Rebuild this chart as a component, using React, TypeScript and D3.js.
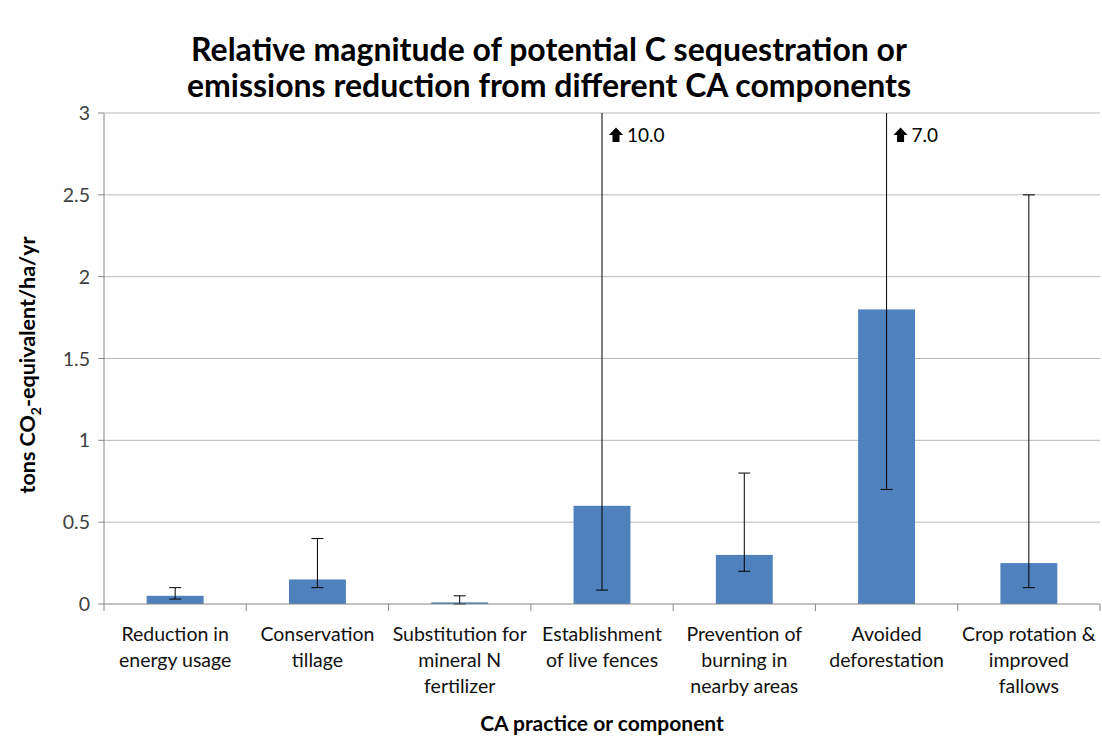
import React from "react";
import * as d3 from "d3";

const categories = [
  ["Reduction in", "energy usage"],
  ["Conservation", "tillage"],
  ["Substitution for", "mineral N", "fertilizer"],
  ["Establishment", "of live fences"],
  ["Prevention of", "burning in", "nearby areas"],
  ["Avoided", "deforestation"],
  ["Crop rotation &", "improved", "fallows"],
];
const values = [0.05, 0.15, 0.01, 0.6, 0.3, 1.8, 0.25];
const errLow = [0.03, 0.1, 0.0, 0.085, 0.2, 0.7, 0.1];
const errHigh = [0.1, 0.4, 0.05, 10.0, 0.8, 7.0, 2.5];
const yTicks = [0, 0.5, 1, 1.5, 2, 2.5, 3];
const yTickLabels = ["0", "0.5", "1", "1.5", "2", "2.5", "3"];

const W = 1102;
const H = 744;
const M = { left: 104, right: 1100, top: 113, bottom: 604 };
const FONT = "Lato, 'Open Sans', sans-serif";

export default function App() {
  const x = d3
    .scaleBand<number>()
    .domain(d3.range(categories.length))
    .range([M.left, M.right])
    .paddingInner(0)
    .paddingOuter(0);
  const y = d3.scaleLinear().domain([0, 3]).range([M.bottom, M.top]);
  const bw = x.bandwidth() * 0.4;
  const capW = 12;

  return (
    <svg width={W} height={H} style={{ position: "absolute", left: 0, top: 0, background: "#fff" }}>
      <rect x={0} y={0} width={W} height={H} fill="#fff" />
      <text x={549} y={61} textAnchor="middle" fontFamily={FONT} fontWeight="bold" fontSize={32} fill="#000">
        Relative magnitude of potential C sequestration or
      </text>
      <text x={549} y={97} textAnchor="middle" fontFamily={FONT} fontWeight="bold" fontSize={32} fill="#000">
        emissions reduction from different CA components
      </text>

      {yTicks.map((t, i) => (
        <g key={i}>
          {i > 0 && <line x1={M.left} x2={M.right} y1={y(t)} y2={y(t)} stroke="#b8b8b8" strokeWidth={1} />}
          <line x1={M.left - 6} x2={M.left} y1={y(t)} y2={y(t)} stroke="#868686" />
          <text x={M.left - 14} y={y(t) + 7} textAnchor="end" fontFamily={FONT} fontSize={19.5} fill="#404040">
            {yTickLabels[i]}
          </text>
        </g>
      ))}

      {values.map((v, i) => {
        const cx = (x(i) as number) + x.bandwidth() / 2;
        const top = Math.max(M.top, y(Math.min(errHigh[i], 3)));
        const clipped = errHigh[i] > 3;
        return (
          <g key={i}>
            <rect x={cx - bw / 2} y={y(v)} width={bw} height={y(0) - y(v)} fill="#4f81bd" />
            <line x1={cx} x2={cx} y1={y(errLow[i])} y2={top} stroke="#000" strokeWidth={1} />
            {!clipped && <line x1={cx - capW / 2} x2={cx + capW / 2} y1={top} y2={top} stroke="#000" />}
            <line x1={cx - capW / 2} x2={cx + capW / 2} y1={y(errLow[i])} y2={y(errLow[i])} stroke="#000" />
            {clipped && (
              <g>
                <path
                  d={`M${cx + 7},${M.top + 22} l7,-7.5 l7,7.5 h-3.5 v7 h-7 v-7 z`}
                  fill="#000"
                />
                <text x={cx + 25} y={M.top + 29} fontFamily={FONT} fontSize={19} fill="#000">
                  {errHigh[i].toFixed(1)}
                </text>
              </g>
            )}
          </g>
        );
      })}

      <line x1={M.left} x2={M.left} y1={M.top} y2={M.bottom} stroke="#868686" />
      <line x1={M.left} x2={M.right} y1={M.bottom} y2={M.bottom} stroke="#868686" />
      {d3.range(categories.length + 1).map((i) => {
        const xx = M.left + i * x.bandwidth();
        return <line key={i} x1={xx} x2={xx} y1={M.bottom} y2={M.bottom + 7} stroke="#868686" />;
      })}

      {categories.map((lines, i) => {
        const cx = (x(i) as number) + x.bandwidth() / 2;
        return (
          <text key={i} textAnchor="middle" fontFamily={FONT} fontSize={19.5} fill="#111">
            {lines.map((l, j) => (
              <tspan key={j} x={cx} y={641 + j * 26}>
                {l}
              </tspan>
            ))}
          </text>
        );
      })}

      <text x={602} y={731} textAnchor="middle" fontFamily={FONT} fontWeight="bold" fontSize={21} fill="#000">
        CA practice or component
      </text>

      <text
        transform={`translate(35,365) rotate(-90)`}
        textAnchor="middle"
        fontFamily={FONT}
        fontWeight="bold"
        fontSize={21.5}
        fill="#000"
      >
        tons CO<tspan fontSize={14} dy={6}>2</tspan>
        <tspan dy={-6}>-equivalent/ha/yr</tspan>
      </text>
    </svg>
  );
}
